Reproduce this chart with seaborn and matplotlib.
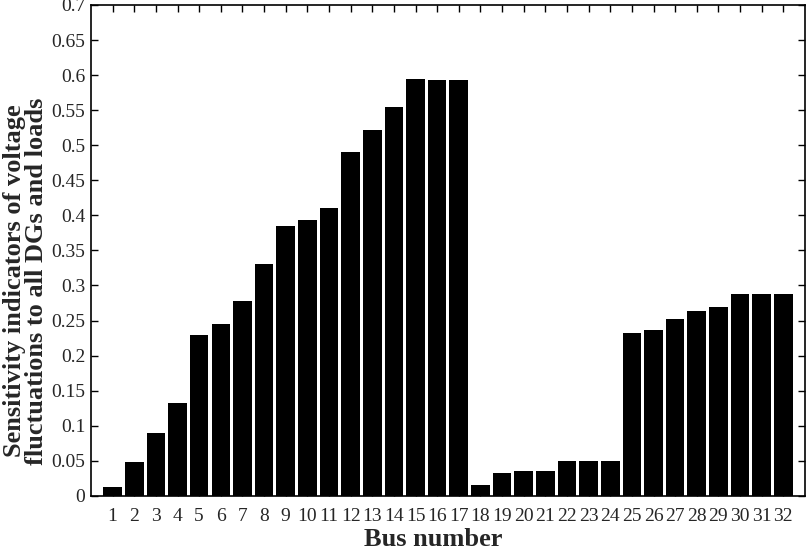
import matplotlib
matplotlib.use("Agg")
import matplotlib.pyplot as plt
import seaborn as sns
import pandas as pd

buses = [str(i) for i in range(1, 33)]
sensitivity = [0.013, 0.048, 0.090, 0.132, 0.230, 0.245, 0.278, 0.330, 0.385, 0.394,
               0.411, 0.490, 0.522, 0.554, 0.594, 0.593, 0.593, 0.015, 0.032, 0.036,
               0.036, 0.049, 0.049, 0.049, 0.232, 0.236, 0.252, 0.263, 0.270, 0.288,
               0.288, 0.288]
ytick_vals = [0, 0.05, 0.1, 0.15, 0.2, 0.25, 0.3, 0.35, 0.4, 0.45, 0.5, 0.55, 0.6, 0.65, 0.7]
ytick_labels = ["0", "0.05", "0.1", "0.15", "0.2", "0.25", "0.3", "0.35", "0.4", "0.45",
                "0.5", "0.55", "0.6", "0.65", "0.7"]

sns.set_style("white")
plt.rcParams['font.family'] = ['Liberation Serif', 'DejaVu Serif']

df = pd.DataFrame({"bus": buses, "val": sensitivity})

fig = plt.figure(figsize=(8.09, 5.54), dpi=100)
ax = fig.add_axes([0.1125, 0.105, 0.8825, 0.886])
sns.barplot(data=df, x="bus", y="val", color="black", width=0.86, ax=ax,
            saturation=1, edgecolor="black", linewidth=0)

ax.set_xlim(-1, 32)
ax.set_ylim(0, 0.7)
ax.set_yticks(ytick_vals)
ax.set_yticklabels(ytick_labels, fontsize=14)
ax.tick_params(axis='x', labelsize=14)
ax.tick_params(direction='in', length=5, width=1, top=True, right=True,
               bottom=True, left=True, color='black', pad=4)
ax.tick_params(axis='x', pad=9)
for s in ax.spines.values():
    s.set_color('black')
    s.set_linewidth(1.2)
ax.set_xlabel("Bus number", fontsize=19, fontweight='bold')
ax.set_ylabel("Sensitivity indicators of voltage\nfluctuations to all DGs and loads",
              fontsize=19, fontweight='bold', linespacing=0.95)
ax.xaxis.set_label_coords(0.48, -0.066)
ax.yaxis.set_label_coords(-0.060, 0.438)
fig.savefig("out.png", dpi=100)
